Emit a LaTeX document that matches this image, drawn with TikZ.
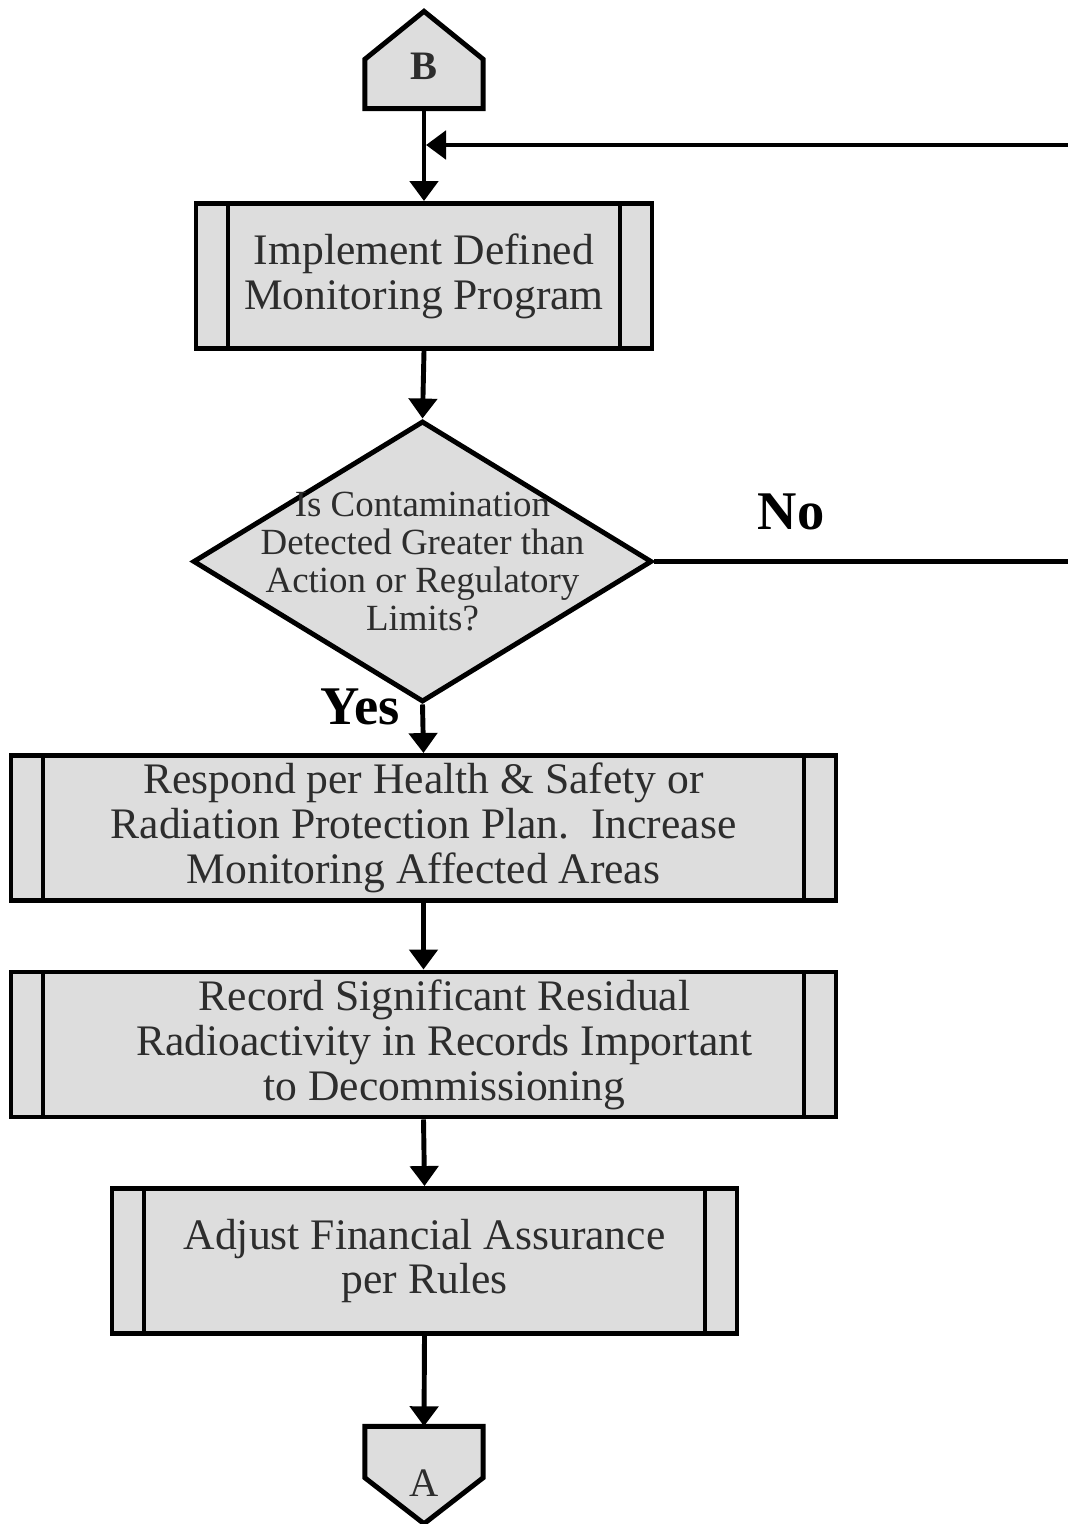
\documentclass[tikz,border=0pt]{standalone}
\usepackage{fontspec}
\setmainfont{Liberation Serif}
\usetikzlibrary{shapes.geometric, arrows.meta, backgrounds}
\definecolor{boxgray}{RGB}{221,221,221}
\definecolor{textgray}{RGB}{45,45,45}

\begin{document}
\begin{tikzpicture}[
        flow/.style={draw, line width=1.4pt, fill=boxgray, text=textgray},
        procbox/.style={flow, rectangle, minimum height=1.45cm, inner sep=0pt, align=center,
            font=\fontsize{12.4}{12.8}\selectfont,
            path picture={
                \draw[line width=1.4pt] ([xshift=0.32cm]path picture bounding box.north west) -- ([xshift=0.32cm]path picture bounding box.south west);
                \draw[line width=1.4pt] ([xshift=-0.32cm]path picture bounding box.north east) -- ([xshift=-0.32cm]path picture bounding box.south east);
            }},
        offpage/.style={rectangle, text=textgray, minimum width=1.17cm, minimum height=0.96cm,
            inner sep=0pt, font=\fontsize{11.5}{13}\selectfont},
        answer/.style={font=\bfseries\fontsize{15.5}{18}\selectfont},
        conn/.style={line width=1.4pt, -{Triangle[width=0.28cm, length=0.2cm]}}
    ]
            \useasboundingbox (0,0) rectangle (10.68,-15.24);

            % Draw nodes
            \node[offpage] (B) at (4.24,-0.60) {\raisebox{-0.20cm}[0pt][0pt]{\bfseries B}};
            \node[procbox, minimum width=4.56cm] (impl) at (4.24,-2.76) {Implement Defined\\Monitoring Program};
            \node[flow, diamond, minimum width=4.59cm, minimum height=2.81cm, inner sep=0pt,
                label={[text=textgray, align=center, font=\fontsize{10.5}{10.9}\selectfont]center:Is Contamination\\Detected Greater than\\Action or Regulatory\\Limits?}] (check) at (4.225,-5.615) {};
            \node[procbox, minimum width=8.25cm] (respond) at (4.235,-8.28) {Respond per Health \& Safety or\\Radiation Protection Plan.\ \ Increase\\Monitoring Affected Areas};
            \node[procbox, minimum width=8.25cm] (record) at (4.235,-10.445) {\hspace*{0.42cm}Record Significant Residual\\\hspace*{0.42cm}Radioactivity in Records Important\\\hspace*{0.42cm}to Decommissioning};
            \node[procbox, minimum width=6.25cm] (adjust) at (4.245,-12.61) {Adjust Financial Assurance\\per Rules};
            \node[offpage] (A) at (4.24,-14.75) {\raisebox{-0.21cm}[0pt][0pt]{A}};

            \node[answer] (no) at (7.91,-5.12) {No};
            \node[answer] (yes) at (3.6,-7.07) {Yes};

            % off-page connector outlines
            \begin{scope}[on background layer]
                \draw[flow] (B.south west) -- ([yshift=-0.48cm]B.north west) -- (B.north)
                    -- ([yshift=-0.48cm]B.north east) -- (B.south east) -- cycle;
                \draw[flow] (A.north west) -- ([yshift=0.46cm]A.south west) -- (A.south)
                    -- ([yshift=0.46cm]A.south east) -- (A.north east) -- cycle;
            \end{scope}

            \coordinate (merge) at (4.26,-1.45);
            \coordinate (loopin) at (10.68,-1.45);
            \coordinate (loopout) at (10.68,-5.615);

            % Draw connections
            \draw[conn] (B.south) -- (impl.north);
            \draw[conn] (loopin) -- (merge);
            \draw[conn] (impl.south) -- (check.north);
            \draw[line width=1.4pt] (check.east) -- (loopout);
            \draw[conn] (check.south) -- (respond.north);
            \draw[conn] (respond.south) -- (record.north);
            \draw[conn] (record.south) -- (adjust.north);
            \draw[conn] (adjust.south) -- (A.north);
        \end{tikzpicture}
\end{document}
